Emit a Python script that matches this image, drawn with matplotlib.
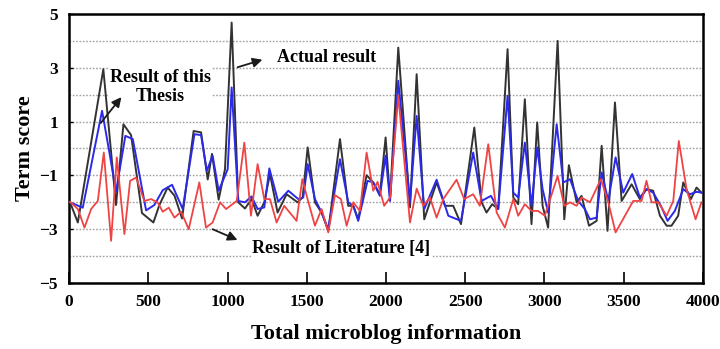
import matplotlib
matplotlib.use("Agg")
import matplotlib.pyplot as plt

# Actual result (black)
actual_x = [6, 55, 216, 296, 343, 391, 460, 532, 570, 622, 665, 713, 786, 833, 875, 902, 944, 984,
            1026, 1068, 1110, 1152, 1190, 1232, 1268, 1316, 1373, 1442, 1474, 1506, 1552, 1594, 1636,
            1710, 1762, 1794, 1825, 1878, 1920, 1962, 1998, 2026, 2078, 2152, 2194, 2242, 2320, 2373,
            2425, 2474, 2558, 2604, 2635, 2671, 2709, 2768, 2804, 2835, 2877, 2919, 2955, 2989, 3024,
            3084, 3126, 3155, 3204, 3235, 3282, 3330, 3362, 3399, 3446, 3488, 3551, 3603, 3645, 3687,
            3730, 3772, 3803, 3845, 3877, 3925, 3961, 3992]
actual_y = [-2.0, -2.75, 2.95, -2.1, 0.9, 0.5, -2.4, -2.75, -2.1, -1.45, -1.75, -2.6, 0.65, 0.6, -1.15,
            -0.2, -1.9, -0.77, 4.68, -2.0, -2.23, -1.88, -2.5, -2.0, -0.95, -2.38, -1.7, -2.0, -1.82,
            0.04, -2.0, -2.38, -3.06, 0.35, -2.13, -2.13, -2.63, -0.99, -1.26, -1.7, 0.41, -1.88, 3.75,
            -2.19, 2.76, -2.63, -1.26, -2.13, -2.13, -2.81, 0.78, -2.0, -2.38, -2.07, -2.25, 3.69,
            -1.82, -2.07, 1.83, -2.81, 0.97, -2.13, -2.94, 4.0, -2.63, -0.62, -2.0, -1.76, -2.87,
            -2.69, 0.1, -3.06, 1.71, -1.95, -1.33, -1.88, -1.51, -1.57, -2.5, -2.87, -2.87, -2.5,
            -1.26, -1.88, -1.45, -1.64]

# Result of this thesis (blue)
thesis_x = [6, 86, 208, 250, 296, 355, 402, 486, 538, 591, 650, 717, 791, 833, 869, 906, 944, 1001,
            1026, 1068, 1110, 1152, 1190, 1232, 1264, 1320, 1384, 1447, 1478, 1506, 1552, 1594, 1636,
            1710, 1762, 1794, 1825, 1884, 1920, 1962, 1998, 2026, 2078, 2152, 2194, 2242, 2320, 2394,
            2474, 2551, 2604, 2663, 2709, 2768, 2804, 2835, 2877, 2919, 2955, 2989, 3024, 3078, 3120,
            3162, 3214, 3256, 3288, 3330, 3362, 3404, 3450, 3498, 3555, 3603, 3645, 3687, 3736, 3778,
            3824, 3877, 3919, 3961, 3992]
thesis_y = [-2.0, -2.2, 1.4, 0.0, -1.6, 0.47, 0.35, -2.3, -2.1, -1.55, -1.35, -2.25, 0.53, 0.5, -0.83,
            -0.27, -1.57, -0.77, 2.27, -1.95, -2.0, -1.78, -2.25, -2.19, -0.74, -1.98, -1.57, -1.88,
            -1.82, -0.58, -1.88, -2.38, -3.0, -0.4, -2.0, -2.13, -2.69, -1.2, -1.26, -1.76, -0.27,
            -1.95, 2.52, -2.0, 1.21, -2.25, -1.16, -2.5, -2.69, -0.15, -1.95, -1.76, -2.25, 1.96,
            -1.64, -1.82, 0.22, -2.13, 0.04, -1.51, -2.38, 0.9, -1.26, -1.14, -1.95, -2.25, -2.63,
            -2.57, -0.89, -1.95, -0.33, -1.64, -0.95, -1.82, -1.51, -1.64, -2.13, -2.69, -2.32, -1.51,
            -1.7, -1.61, -1.64]

# Result of literature [4] (red)
lit_x = [6, 55, 97, 139, 181, 219, 265, 301, 349, 385, 423, 475, 517, 559, 591, 629, 665, 707, 755,
         822, 864, 906, 953, 991, 1058, 1106, 1148, 1190, 1232, 1268, 1310, 1358, 1436, 1472, 1510,
         1552, 1594, 1636, 1678, 1716, 1752, 1794, 1836, 1878, 1920, 1947, 1989, 2026, 2078, 2152,
         2194, 2236, 2278, 2320, 2362, 2446, 2494, 2551, 2593, 2646, 2699, 2751, 2804, 2835, 2877,
         2919, 2961, 3003, 3084, 3126, 3162, 3204, 3235, 3288, 3357, 3404, 3450, 3509, 3561, 3614,
         3645, 3677, 3719, 3772, 3814, 3849, 3898, 3955, 3992]
lit_y = [-1.98, -2.25, -2.94, -2.25, -1.95, -0.15, -3.43, -0.33, -3.18, -1.2, -1.08, -1.95, -1.88,
         -2.0, -2.35, -2.2, -2.57, -2.35, -3.0, -1.26, -2.94, -2.75, -2.0, -2.25, -1.95, 0.22, -2.5,
         -0.58, -1.88, -1.88, -2.75, -2.13, -2.69, -1.14, -1.98, -2.87, -2.25, -3.12, -1.73, -1.88,
         -2.87, -2.0, -2.32, -0.15, -1.57, -1.24, -2.13, -1.82, 1.96, -2.75, -1.49, -2.13, -1.82,
         -2.57, -1.88, -1.16, -1.88, -1.7, -2.13, 0.16, -2.38, -2.94, -1.88, -2.5, -2.07, -2.32,
         -2.32, -2.5, -1.02, -2.13, -2.0, -2.13, -1.82, -2.0, -1.14, -2.0, -3.12, -2.5, -1.95,
         -1.95, -1.2, -2.0, -2.0, -2.5, -1.95, 0.28, -1.51, -2.63, -2.0]

x_ticks = [0, 500, 1000, 1500, 2000, 2500, 3000, 3500, 4000]
y_ticks = [-5, -3, -1, 1, 3, 5]

plt.rcParams['font.family'] = ['Liberation Serif', 'DejaVu Serif']
plt.rcParams['font.weight'] = 'bold'

fig = plt.figure(figsize=(7.2, 3.49), dpi=100)
ax = fig.add_axes([0.096, 0.189, 0.880, 0.771])

ax.plot(actual_x, actual_y, color='#333333', lw=1.4, zorder=3)
ax.plot(thesis_x, thesis_y, color='#2a2ae8', lw=1.4, zorder=4)
ax.plot(lit_x, lit_y, color='#f04444', lw=1.3, zorder=5)

ax.set_xlim(0, 4000)
ax.set_ylim(-5, 5)
ax.set_xticks(x_ticks)
ax.set_yticks(y_ticks)
ax.set_yticks(range(-4, 5), minor=True)
ax.grid(axis='y', which='both', color='#a0a0a0', linestyle=(0, (1.2, 1.2)), lw=1.0, zorder=0)
ax.tick_params(axis='x', direction='in', length=8, width=1.2, labelsize=12.5, pad=8)
ax.tick_params(axis='y', direction='in', length=3, width=1.0, labelsize=12.5, pad=8)
ax.tick_params(axis='y', which='minor', length=0)
for lab in ax.get_xticklabels() + ax.get_yticklabels():
    lab.set_fontweight('bold')
for sp in ax.spines.values():
    sp.set_linewidth(1.8)

ax.set_xlabel('Total microblog information', fontsize=16, fontweight='bold', labelpad=10)
ax.set_ylabel('Term score', fontsize=16, fontweight='bold', labelpad=3)

box = dict(facecolor='white', edgecolor='none', pad=1)
arrow = dict(arrowstyle='-|>', color='#1a1a1a', lw=1.3, mutation_scale=14)
ax.annotate('Actual result', xy=(1237, 3.33), xytext=(1312, 3.40), fontsize=13, fontweight='bold',
            ha='left', va='center', bbox=box, zorder=6)
ax.annotate('', xy=(1237, 3.33), xytext=(1047, 2.99), arrowprops=arrow, zorder=6)
ax.annotate('Result of this\nThesis', xy=(341, 1.99), xytext=(574, 2.29), fontsize=13,
            fontweight='bold', ha='center', va='center', bbox=box, zorder=6, linespacing=1.15)
ax.annotate('', xy=(341, 1.99), xytext=(189, 0.87), arrowprops=arrow, zorder=6)
ax.annotate('Result of Literature [4]', xy=(1079, -3.44), xytext=(1155, -3.70), fontsize=13,
            fontweight='bold', ha='left', va='center', bbox=box, zorder=6)
ax.annotate('', xy=(1079, -3.44), xytext=(890, -2.96), arrowprops=arrow, zorder=6)

fig.savefig('out.png', dpi=100)
